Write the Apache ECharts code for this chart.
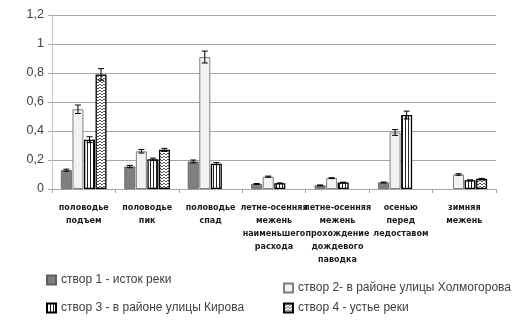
<!DOCTYPE html>
<html><head><meta charset="utf-8">
<script src="https://cdn.jsdelivr.net/npm/echarts@6/dist/echarts.min.js"></script>
<style>html,body{margin:0;padding:0;background:#fff}#c{width:518px;height:330px}</style>
</head><body><div id="c"></div>
<script>
const categories = [
  "половодье\nподъем",
  "половодье\nпик",
  "половодье\nспад",
  "летне-осенняя\nмежень\nнаименьшего\nрасхода",
  "летне-осенняя\nмежень\nпрохождение\nдождевого\nпаводка",
  "осенью\nперед\nледоставом",
  "зимняя\nмежень"
];
const seriesNames = [
  "створ 1 - исток реки",
  "створ 2- в районе улицы Холмогорова",
  "створ 3 - в районе улицы Кирова",
  "створ 4 - устье реки"
];
const s1 = [0.13, 0.155, 0.19, 0.035, 0.025, 0.045, null];
const s2 = [0.55, 0.26, 0.91, 0.085, 0.075, 0.39, 0.10];
const s3 = [0.34, 0.205, 0.175, 0.04, 0.045, 0.51, 0.06];
const s4 = [0.79, 0.27, null, null, null, null, 0.07];
const e1 = [0.007, 0.008, 0.01, 0.003, 0.003, 0.003, null];
const e2 = [0.029, 0.012, 0.041, 0.004, 0.003, 0.02, 0.005];
const e3 = [0.02, 0.008, 0.007, 0.002, 0.002, 0.027, 0.003];
const e4 = [0.04, 0.01, null, null, null, null, 0.003];
const yTicks = [0, 0.2, 0.4, 0.6, 0.8, 1, 1.2];

function makePattern(w, h, draw) {
  const c = document.createElement('canvas');
  c.width = w; c.height = h;
  const ctx = c.getContext('2d');
  ctx.fillStyle = '#fff'; ctx.fillRect(0, 0, w, h);
  draw(ctx);
  return { image: c, repeat: 'repeat' };
}
const stripe = makePattern(3, 4, ctx => { ctx.fillStyle = '#222'; ctx.fillRect(0, 0, 1, 4); });
const wave = makePattern(4, 3, ctx => {
  ctx.fillStyle = '#555';
  ctx.fillRect(0, 0, 1, 1); ctx.fillRect(1, 1, 2, 1); ctx.fillRect(3, 0, 1, 1);
});

const BW = 11, GAP = 0.55;
const vals = [s1, s2, s3, s4];
const errs = [e1, e2, e3, e4];
const styles = [
  { color: '#7f7f7f', borderColor: '#5f5f5f', borderWidth: 0.8 },
  { color: '#f2f2f2', borderColor: '#7f7f7f', borderWidth: 1 },
  { color: stripe, borderColor: '#000', borderWidth: 1.3 },
  { color: wave, borderColor: '#000', borderWidth: 1.3 }
];

const series = [];
vals.forEach((v, i) => {
  series.push({
    name: seriesNames[i], type: 'bar', data: v, barWidth: BW, barGap: '5%',
    itemStyle: styles[i], emphasis: { disabled: true }
  });
});
vals.forEach((v, i) => {
  const data = v.map((y, k) => [k, y, errs[i][k]]).filter(d => d[1] != null && d[2] != null);
  series.push({
    name: 'err' + i, type: 'custom', data: data, z: 5,
    encode: { x: 0, y: 1 },
    renderItem: function (params, api) {
      const x = api.value(0), y = api.value(1), e = api.value(2);
      const off = (i - 1.5) * (BW + GAP);
      const hi = api.coord([x, y + e]);
      const lo = api.coord([x, y - e]);
      const cx = hi[0] + off;
      const cap = 3;
      const st = { stroke: '#000', lineWidth: 1 };
      return { type: 'group', children: [
        { type: 'line', shape: { x1: cx, y1: hi[1], x2: cx, y2: lo[1] }, style: st },
        { type: 'line', shape: { x1: cx - cap, y1: hi[1], x2: cx + cap, y2: hi[1] }, style: st },
        { type: 'line', shape: { x1: cx - cap, y1: lo[1], x2: cx + cap, y2: lo[1] }, style: st }
      ]};
    }
  });
});

const legendBase = {
  orient: 'horizontal', itemWidth: 9, itemHeight: 9, padding: 0, selectedMode: false, icon: 'rect',
  textStyle: { fontFamily: 'Liberation Sans', fontSize: 12, color: '#404040' }
};
const legends = [
  Object.assign({}, legendBase, { data: [seriesNames[0]], left: 46, top: 274 }),
  Object.assign({}, legendBase, { data: [seriesNames[1]], left: 283, top: 282 }),
  Object.assign({}, legendBase, { data: [seriesNames[2]], left: 46, top: 302 }),
  Object.assign({}, legendBase, { data: [seriesNames[3]], left: 283, top: 302 })
];

const chart = echarts.init(document.getElementById('c'), null, { renderer: 'canvas' });
chart.setOption({
  animation: false,
  backgroundColor: '#fff',
  grid: { left: 52, right: 22, top: 15, bottom: 141, containLabel: false },
  legend: legends,
  xAxis: {
    type: 'category', data: categories,
    axisLine: { lineStyle: { color: '#a6a6a6', width: 1 } },
    axisTick: { show: true, length: 4, interval: 0, lineStyle: { color: '#a6a6a6' } },
    axisLabel: {
      interval: 0, margin: 12, fontFamily: 'DejaVu Sans', fontSize: 8, fontWeight: 'bold',
      lineHeight: 13, color: '#1a1a1a'
    }
  },
  yAxis: {
    type: 'value', min: 0, max: 1.2, interval: 0.2,
    axisLine: { show: true, lineStyle: { color: '#c8c8c8' } },
    axisTick: { show: true, length: 4, lineStyle: { color: '#a6a6a6' } },
    splitLine: { lineStyle: { color: '#a6a6a6', width: 1 } },
    axisLabel: {
      margin: 8, fontFamily: 'Liberation Sans', fontSize: 12.5, color: '#404040',
      formatter: v => {
        const t = yTicks.find(t => Math.abs(t - v) < 1e-9);
        return String(Math.round((t != null ? t : v) * 10) / 10).replace('.', ',');
      }
    }
  },
  series: series
});
</script></body></html>
